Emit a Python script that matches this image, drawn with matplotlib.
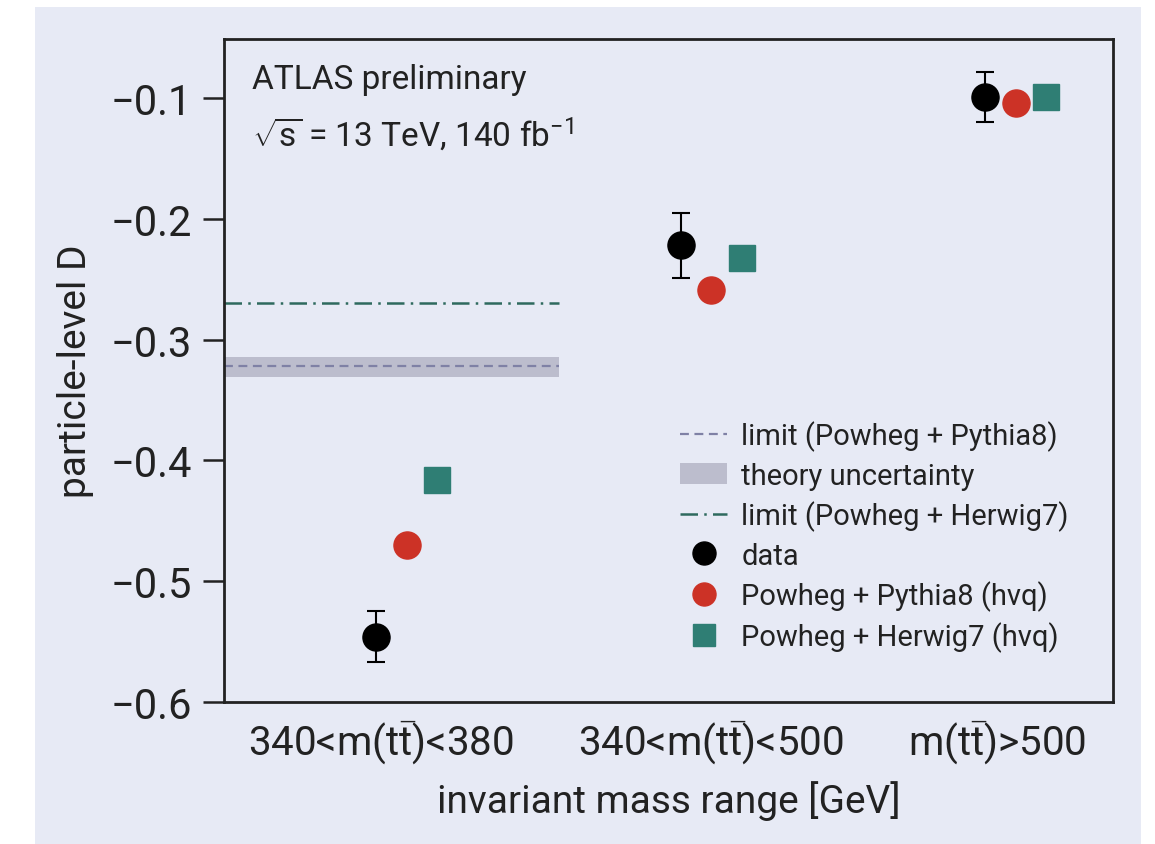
import numpy as np
import matplotlib
matplotlib.use('Agg')
import matplotlib.pyplot as plt
from matplotlib.patches import Rectangle

#fonts and mathtext in the same family
plt.rcParams['font.family'] = ['Roboto', 'DejaVu Sans']
plt.rcParams['mathtext.fontset'] = 'custom'
plt.rcParams['mathtext.rm'] = 'Roboto'
plt.rcParams['mathtext.it'] = 'Roboto'

#data
categories = [r'340<m(t$\bar{\mathrm{t}}$)<380', r'340<m(t$\bar{\mathrm{t}}$)<500', r'm(t$\bar{\mathrm{t}}$)>500']
data = [-0.546, -0.222, -0.099]
data_err = [0.021, 0.027, 0.021]
pythia = [-0.470, -0.259, -0.104]
herwig = [-0.416, -0.232, -0.099]
limit_pythia = -0.322
limit_pythia_band = [-0.331, -0.314]
limit_herwig = -0.270

bg = '#e7eaf5'
red = '#cc3226'
teal = '#2f7e74'
ink = '#222222'
x = np.arange(len(categories))
dx = 0.1

fig = plt.figure(figsize=(11.55, 8.45), dpi=100)
fig.patch.set_facecolor('white')
fig.patches.append(Rectangle((35/1155, 0), 1106/1155, 1 - 8/845, transform=fig.transFigure,
                             facecolor=bg, edgecolor='none', zorder=-10))
ax = fig.add_axes([0.1939, 0.168, 0.7697, 0.7847])
ax.set_facecolor(bg)

#limit lines, only over the first mass bin
ax.axhspan(limit_pythia_band[0], limit_pythia_band[1], xmin=0, xmax=(0.5 + 0.6) / 2.92,
           color='#bcbdcd', lw=0, label='theory uncertainty')
ax.plot([-0.6, 0.5], [limit_pythia] * 2, ls=(0, (4, 2.5)), color='#7f81a5', lw=1.6,
        label='limit (Powheg + Pythia8)')
ax.plot([-0.6, 0.5], [limit_herwig] * 2, ls=(0, (7, 2.5, 1, 2.5)), color='#2e6a5e', lw=1.8,
        label='limit (Powheg + Herwig7)')

ax.errorbar(x - dx, data, yerr=data_err, fmt='none', ecolor='black', capsize=6.5,
            elinewidth=1.5, capthick=1.5, zorder=4)
ax.plot(x - dx, data, 'o', color='black', ms=19.5, ls='none', label='data', zorder=5)
ax.plot(x, pythia, 'o', color=red, ms=19.5, ls='none', label='Powheg + Pythia8 (hvq)', zorder=5)
ax.plot(x + dx, herwig, 's', color=teal, ms=19, ls='none', label='Powheg + Herwig7 (hvq)', zorder=5)

ax.set_xlim(-0.6, 2.32)
ax.set_ylim(-0.6, -0.051)
ax.set_yticks([-0.6, -0.5, -0.4, -0.3, -0.2, -0.1])
ax.set_xticks([-0.085, 1.0, 1.94])
ax.set_xticklabels(categories)
ax.tick_params(axis='x', length=0, labelsize=29, pad=12, colors=ink)
ax.tick_params(axis='y', length=15, width=1.8, labelsize=30, pad=8, colors=ink)
for s in ax.spines.values():
    s.set_linewidth(2.0)
    s.set_color(ink)

ax.set_xlabel('invariant mass range [GeV]', fontsize=28, labelpad=10, color=ink)
ax.set_ylabel('particle-level D', fontsize=28, labelpad=12, color=ink)

ax.text(0.031, 0.94, 'ATLAS preliminary', transform=ax.transAxes, fontsize=24, color=ink, va='center')
ax.text(0.031, 0.857, r'$\sqrt{s}$ = 13 TeV, 140 fb$^{-1}$', transform=ax.transAxes, fontsize=24,
        color=ink, va='center')

#legend order as in the reference
h, l = ax.get_legend_handles_labels()
order = ['limit (Powheg + Pythia8)', 'theory uncertainty', 'limit (Powheg + Herwig7)',
         'data', 'Powheg + Pythia8 (hvq)', 'Powheg + Herwig7 (hvq)']
hd = dict(zip(l, h))
leg = ax.legend([hd[k] for k in order], order, loc='lower right', bbox_to_anchor=(0.98, 0.036),
                frameon=False, fontsize=21, handlelength=1.6, handletextpad=0.5,
                labelspacing=0.36, markerscale=0.85)
for t in leg.get_texts():
    t.set_color(ink)

fig.savefig('out.png', dpi=100, facecolor='white')
